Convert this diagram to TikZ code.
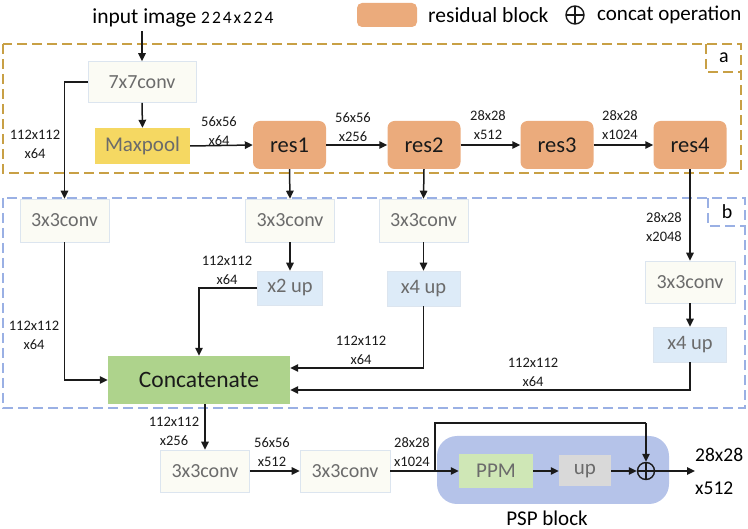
\documentclass[tikz,border=0pt]{standalone}
\usepackage{fontspec}
\setmainfont{Carlito}
\newfontfamily\widenum[LetterSpace=11]{Carlito}
\usetikzlibrary{arrows.meta,calc}
\definecolor{resc}{HTML}{EBAB7C}
\definecolor{lightbox}{HTML}{FBFBF4}
\definecolor{lightedge}{HTML}{DCE5EF}
\definecolor{mpool}{HTML}{F5D862}
\definecolor{upblue}{HTML}{DDEBF8}
\definecolor{catgreen}{HTML}{AED38C}
\definecolor{pspblue}{HTML}{B5C3E9}
\definecolor{ppmgreen}{HTML}{CFE7B6}
\definecolor{upgray}{HTML}{D9D9D9}
\definecolor{txtgray}{HTML}{6B6B6B}
\definecolor{goldd}{HTML}{C8A045}
\definecolor{blued}{HTML}{9AB0E4}
\definecolor{linec}{HTML}{1A1A1A}
\tikzset{
  arr/.style={draw=linec,line width=1.5pt,-{Triangle[length=8pt,width=7.5pt]}},
  ln/.style={draw=linec,line width=1.5pt},
  convbox/.style={draw=lightedge,line width=0.6pt,fill=lightbox,text=txtgray,font=\fontsize{20}{22}\selectfont,inner sep=0pt},
  resbox/.style={fill=resc,rounded corners=7pt,minimum width=73pt,minimum height=48pt,font=\fontsize{22.5}{25}\selectfont,text=linec,inner sep=0pt},
  upbox/.style={draw=lightedge,line width=0.6pt,fill=upblue,text=txtgray,font=\fontsize{20.5}{22}\selectfont,inner sep=0pt},
  dimlbl/.style={font=\fontsize{14.5}{19}\selectfont,align=center,text=linec,inner sep=0pt},
  boxa/.style={draw=goldd,line width=1.3pt,dash pattern=on 10pt off 5pt},
  boxb/.style={draw=blued,line width=1.3pt,dash pattern=on 10pt off 5pt},
  oplus/.style={circle,draw=linec,line width=1.4pt,minimum size=17pt,inner sep=0pt,
    path picture={\draw[linec,line width=1.4pt] (path picture bounding box.north) -- (path picture bounding box.south) (path picture bounding box.west) -- (path picture bounding box.east);}}
}
\begin{document}
\begin{tikzpicture}[x=1pt,y=-1pt]
\useasboundingbox (0,0) rectangle (748,529);
% legend
\node[fill=resc,rounded corners=5pt,minimum width=60pt,minimum height=24pt,inner sep=0pt] (legres) at (387,15) {};
\node[anchor=west,font=\fontsize{21.5}{23}\selectfont,inner sep=0pt] (legrestxt) at (428,15) {residual block};
\node[oplus,minimum size=18pt] (legop) at (575,15) {};
\node[anchor=west,font=\fontsize{21}{23}\selectfont,inner sep=0pt] (legoptxt) at (597,15) {concat operation};
% input
\node[inner sep=0pt,font=\fontsize{21.5}{23}\selectfont] (input) at (183,18) {input image {\widenum\fontsize{17.5}{21}\selectfont 224x224}};
% dashed regions
\draw[boxa] (3,44) rectangle (741,173);
\draw[boxa] (706,44) -- (706,72) -- (741,72);
\node[font=\fontsize{20}{22}\selectfont,inner sep=0pt] (lbla) at (724,58) {a};
\draw[boxb] (3,198) rectangle (745,408);
\draw[boxb] (708,198) -- (708,226) -- (745,226);
\node[font=\fontsize{20}{22}\selectfont,inner sep=0pt] (lblb) at (727,212) {b};
% encoder
\node[convbox,minimum width=108pt,minimum height=41pt] (c7) at (142,82) {7x7conv};
\node[fill=mpool,text=txtgray,font=\fontsize{21}{23}\selectfont,minimum width=95pt,minimum height=36pt,inner sep=0pt] (mp) at (142.5,146) {Maxpool};
\node[resbox] (r1) at (289.5,145) {res1};
\node[resbox] (r2) at (424,145) {res2};
\node[resbox] (r3) at (557,145) {res3};
\node[resbox] (r4) at (690,145) {res4};
% decoder branch
\node[convbox,minimum width=89pt,minimum height=43pt] (l3) at (64.5,220.5) {3x3conv};
\node[convbox,minimum width=89pt,minimum height=43pt] (m1) at (290,220.5) {3x3conv};
\node[convbox,minimum width=89pt,minimum height=43pt] (m2) at (423.5,220.5) {3x3conv};
\node[convbox,minimum width=90pt,minimum height=42pt] (rc) at (690,282) {3x3conv};
\node[upbox,minimum width=65pt,minimum height=34pt] (x2) at (290,288) {x2 up};
\node[upbox,minimum width=73pt,minimum height=35pt] (x4a) at (423.5,288.5) {x4 up};
\node[upbox,minimum width=73pt,minimum height=35pt] (x4b) at (690,344.5) {x4 up};
\node[fill=catgreen,minimum width=182pt,minimum height=48pt,inner sep=0pt,font=\fontsize{23.5}{26}\selectfont,text=linec] (cc) at (199,380) {Concatenate};
% bottom
\node[convbox,minimum width=89pt,minimum height=42pt] (b1) at (205,471) {3x3conv};
\node[convbox,minimum width=90pt,minimum height=42pt] (b2) at (345,471) {3x3conv};
\fill[pspblue,rounded corners=20pt] (437,436) rectangle (669,504);
\node[fill=ppmgreen,text=txtgray,font=\fontsize{21}{23}\selectfont,minimum width=74pt,minimum height=34pt,inner sep=0pt] (ppm) at (496,471) {PPM};
\node[fill=upgray,text=txtgray,font=\fontsize{21}{23}\selectfont,minimum width=52pt,minimum height=31pt,inner sep=0pt] (up) at (585,471) {up};
\node[oplus] (op) at (646,471) {};
\node[anchor=west,font=\fontsize{19.5}{33}\selectfont,align=left,inner sep=0pt] (out) at (695,471) {28x28\\x512};
\node[font=\fontsize{21}{23}\selectfont,inner sep=0pt] (psp) at (547,518) {PSP block};
% connectors top
\draw[arr] (c7.north |- input.south) ++(0,4) -- (c7.north);
\draw[arr] (c7.west) -| (l3.north);
\draw[arr] (c7.south) -- (mp.north);
\draw[arr] (mp.east) -- (r1.west);
\draw[arr] (r1.east) -- (r2.west);
\draw[arr] (r2.east) -- (r3.west);
\draw[arr] (r3.east) -- (r4.west);
\draw[arr] (r1.south) -- (m1.north);
\draw[arr] (r2.south) -- (m2.north);
\draw[arr] (r4.south) -- (rc.north);
\draw[arr] (m1.south) -- (x2.north);
\draw[arr] (m2.south) -- (x4a.north);
\draw[arr] (rc.south) -- (x4b.north);
\draw[arr] (l3.south) |- (cc.west);
\draw[arr] (x2.west) -| (cc.north);
\draw[arr] (x4a.south) |- ([yshift=12pt]cc.east);
\draw[arr] (x4b.south) |- ([yshift=-10pt]cc.east);
\draw[arr] (cc.south -| b1.north) -- (b1.north);
\draw[arr] (b1.east) -- (b2.west);
\draw[arr] (b2.east) -- (ppm.west);
\coordinate (br) at (435,471);
\coordinate (tp) at (646,423);
\draw[ln] (br) -- (br |- tp) -- (tp);
\draw[arr] (tp) -- (op.north);
\draw[arr] (ppm.east) -- (up.west);
\draw[arr] (up.east) -- (op.west);
\draw[arr] (op.east) -- (out.west);
% dimension labels
\node[dimlbl] (d1) at (35,144) {112x112\\x64};
\node[dimlbl] (d2) at (219,131) {56x56\\x64};
\node[dimlbl] (d3) at (353,127) {56x56\\x256};
\node[dimlbl] (d4) at (488,125) {28x28\\x512};
\node[dimlbl] (d5) at (620,125) {28x28\\x1024};
\node[dimlbl] (d6) at (664,227) {28x28\\x2048};
\node[dimlbl] (d7) at (34,335) {112x112\\x64};
\node[dimlbl] (d8) at (227,270) {112x112\\x64};
\node[dimlbl] (d9) at (361,350) {112x112\\x64};
\node[dimlbl] (d10) at (533,372) {112x112\\x64};
\node[dimlbl] (d11) at (174,431) {112x112\\x256};
\node[dimlbl] (d12) at (272,452) {56x56\\x512};
\node[dimlbl] (d13) at (412,452) {28x28\\x1024};
\end{tikzpicture}
\end{document}
